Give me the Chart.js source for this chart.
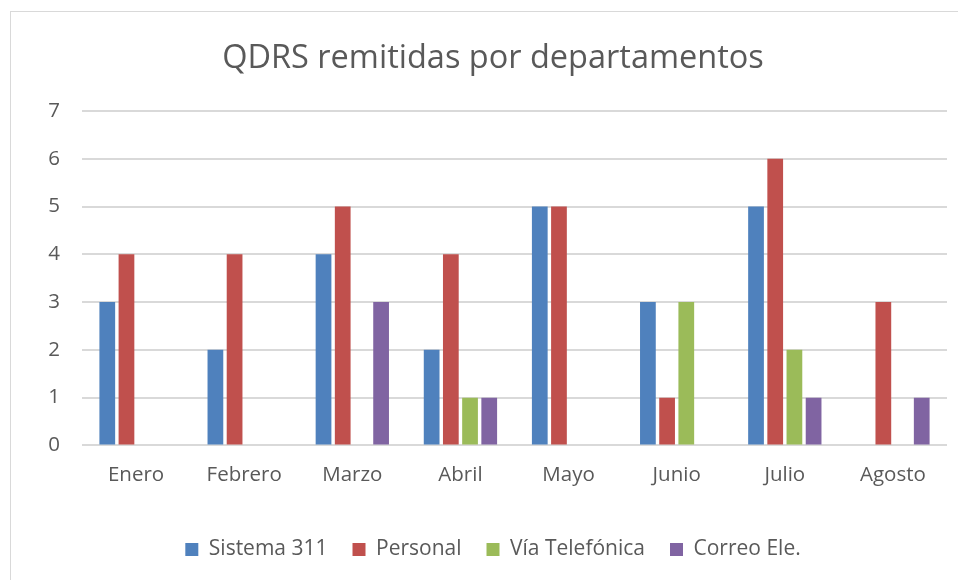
<!DOCTYPE html>
<html>
<head>
<meta charset="utf-8">
<script src="https://cdn.jsdelivr.net/npm/chart.js@4"></script>
<style>
    html, body { margin: 0; padding: 0; background: #ffffff; overflow: hidden; width: 958px; height: 580px; }
    #frame {
        position: absolute;
        left: 10px; top: 11px;
        width: 966px; height: 580px;
        border: 1px solid #d9d9d9;
        box-sizing: border-box;
    }
    #chart { display: block; }
</style>
</head>
<body>
<div id="frame"><canvas id="chart" width="964" height="568"></canvas></div>
<script>
// Datos del gráfico
const months = ['Enero', 'Febrero', 'Marzo', 'Abril', 'Mayo', 'Junio', 'Julio', 'Agosto'];
const sistema311 = [3, 2, 4, 2, 5, 3, 5, 0];
const personal = [4, 4, 5, 4, 5, 1, 6, 3];
const viaTelefonica = [0, 0, 0, 1, 0, 3, 2, 0];
const correoEle = [0, 0, 3, 1, 0, 0, 1, 1];
const yTicks = [0, 1, 2, 3, 4, 5, 6, 7];

const textColor = '#595959';
const fontFamily = "'Open Sans', 'Liberation Sans', sans-serif";

function series(label, data, color) {
    return {
        label: label,
        data: data,
        backgroundColor: color,
        borderColor: '#ffffff',
        borderWidth: 0,
        barPercentage: 0.82,
        categoryPercentage: 0.71
    };
}

new Chart(document.getElementById('chart'), {
    type: 'bar',
    data: {
        labels: months,
        datasets: [
            series('Sistema 311', sistema311, '#4f81bd'),
            series('Personal', personal, '#c0504d'),
            series('Vía Telefónica', viaTelefonica, '#9bbb59'),
            series('Correo Ele.', correoEle, '#8064a2')
        ]
    },
    options: {
        responsive: false,
        animation: false,
        layout: { padding: { left: 28, right: 28, top: 17, bottom: 10 } },
        plugins: {
            title: {
                display: true,
                text: 'QDRS remitidas por departamentos',
                color: textColor,
                font: { family: fontFamily, size: 32.5, weight: 'normal' },
                padding: { top: 10, bottom: 33 }
            },
            legend: {
                position: 'bottom',
                labels: {
                    color: textColor,
                    font: { family: fontFamily, size: 21 },
                    boxWidth: 13,
                    boxHeight: 13,
                    padding: 25
                }
            },
            tooltip: { enabled: false }
        },
        scales: {
            y: {
                min: 0,
                max: 7,
                afterBuildTicks: axis => { axis.ticks = yTicks.map(v => ({ value: v })); },
                afterFit: axis => { axis.width = 43; },
                grid: { color: '#d9d9d9', lineWidth: 2, drawTicks: false },
                border: { display: false },
                ticks: {
                    color: textColor,
                    font: { family: fontFamily, size: 20.5 },
                    padding: 22
                }
            },
            x: {
                grid: { display: false },
                border: { display: false },
                afterFit: axis => { axis.height += 18; },
                ticks: {
                    color: textColor,
                    font: { family: fontFamily, size: 20.5 },
                    padding: 9
                }
            }
        }
    }
});
</script>
</body>
</html>
